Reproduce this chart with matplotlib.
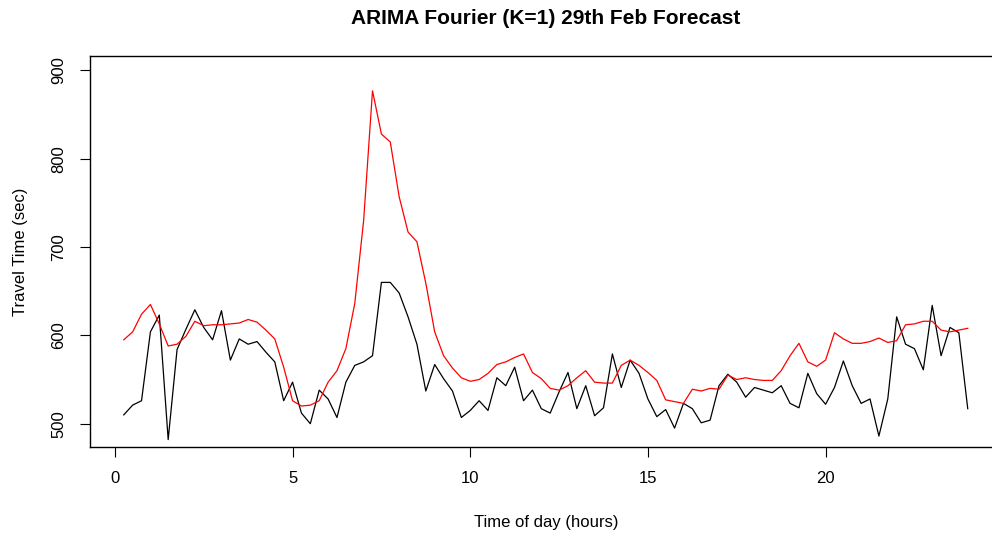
import matplotlib
matplotlib.use('Agg')
import matplotlib.pyplot as plt
import numpy as np

plt.rcParams['font.family'] = ['Liberation Sans', 'DejaVu Sans']

# 15-minute slots across the day (hours)
hours = np.arange(1, 97) * 0.25

# observed travel times (sec)
actual = [510, 521, 526, 604, 623, 482, 584, 607, 629, 609, 595, 628,
          572, 596, 590, 593, 581, 570, 526, 547, 512, 500, 538, 528,
          507, 547, 566, 570, 577, 660, 660, 648, 621, 590, 537, 567,
          551, 537, 507, 515, 526, 515, 552, 543, 564, 526, 538, 517,
          512, 536, 558, 517, 543, 509, 518, 579, 541, 572, 557, 528,
          508, 516, 495, 523, 517, 501, 504, 543, 556, 547, 530, 541,
          538, 535, 543, 523, 518, 557, 534, 522, 541, 571, 543, 523,
          528, 486, 528, 621, 590, 585, 561, 634, 577, 609, 603, 517]

# ARIMA + Fourier forecast (sec)
forecast = [595, 604, 624, 635, 613, 588, 590, 599, 616, 611, 612, 612,
            613, 614, 618, 615, 606, 596, 564, 526, 520, 521, 526, 547,
            560, 585, 636, 730, 877, 828, 819, 757, 717, 706, 659, 604,
            577, 563, 552, 548, 550, 557, 567, 570, 575, 579, 558, 551,
            540, 538, 543, 552, 560, 547, 546, 546, 566, 572, 566, 558,
            549, 527, 525, 523, 539, 537, 540, 539, 555, 550, 552, 550,
            549, 549, 560, 577, 591, 570, 565, 572, 603, 596, 591, 591,
            593, 597, 592, 594, 612, 613, 616, 616, 606, 604, 606, 608]

fig = plt.figure(figsize=(9.92, 5.35), dpi=100)
fig.patch.set_facecolor('white')
W, H = 992.0, 535.0
ax = fig.add_axes([90 / W, 88 / H, 911.5 / W, 391 / H])

ax.plot(hours, actual, color='black', lw=0.9)
ax.plot(hours, forecast, color='#FF0000', lw=0.9)

ax.set_xlim(-0.7, 24.95)
ax.set_ylim(473.6, 916.4)
ax.set_xticks([0, 5, 10, 15, 20])
ax.set_yticks([500, 600, 700, 800, 900])

for s in ax.spines.values():
    s.set_linewidth(1.0)
    s.set_color('black')

ax.tick_params(axis='both', direction='out', length=7, width=0.8,
               labelsize=12, colors='black')
ax.tick_params(axis='x', pad=10)
ax.tick_params(axis='y', pad=10)
for lab in ax.get_yticklabels():
    lab.set_rotation(90)
    lab.set_va('center')

ax.set_xlabel('Time of day (hours)', fontsize=12, labelpad=21)
ax.set_ylabel('Travel Time (sec)', fontsize=12, labelpad=17)
ax.set_title('ARIMA Fourier (K=1) 29th Feb Forecast', fontsize=15,
             fontweight='bold', pad=23)

fig.savefig('out.png', dpi=100, facecolor='white')
